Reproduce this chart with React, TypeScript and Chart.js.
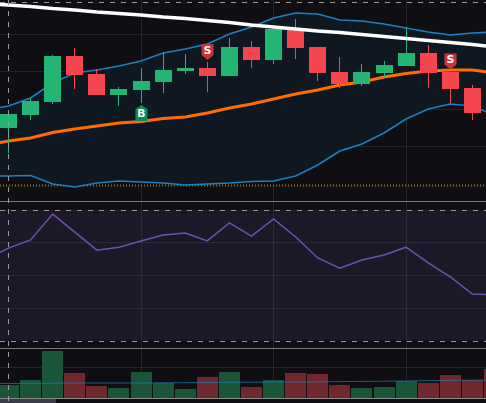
import React, { useEffect, useRef } from "react";
import { Chart, registerables } from "chart.js";

Chart.register(...registerables);

const candleIndex = [0, 1, 2, 3, 4, 5, 6, 7, 8, 9, 10, 11, 12, 13, 14, 15, 16, 17, 18, 19, 20, 21, 22];
const openValues = [72, 85, 98, 144, 126, 105, 110, 118, 129, 132, 124, 153, 140, 170, 153, 128, 116, 127, 134, 147, 128, 112, 87];
const closeValues = [86, 99, 144, 125, 105, 111, 119, 130, 132, 124, 153, 140, 171, 152, 127, 116, 128, 135, 147, 127, 111, 87, 70];
const highValues = [86, 102, 145, 152, 131, 113, 132, 148, 146, 138, 162, 159, 172, 181, 153, 143, 136, 139, 172, 155, 128, 115, 90];
const lowValues = [47, 80, 96, 111, 105, 94, 97, 107, 126, 108, 124, 132, 136, 141, 119, 112, 114, 122, 134, 112, 97, 80, 65];

// The overlay lines start one bar left of the window.
const upperBand = [90, 94, 102, 117, 127, 130, 134, 139, 147, 151, 156, 166, 173, 182, 187, 186, 180, 179, 176, 172, 168, 165, 167, 168];
const lowerBand = [24, 24, 24.5, 16, 13, 17, 19, 18, 17, 15, 16, 17, 18.5, 19, 24, 35, 49, 56, 67, 81, 91, 96, 94, 85];
const orangeAverage = [55, 59, 62, 67.5, 71, 74, 77, 78.5, 81.5, 83, 87, 92, 96, 101, 106, 110, 115, 118, 123, 126.5, 129, 130, 130, 127];
const whiteAverage = [196.5, 195, 193.5, 191.5, 190, 188, 186.5, 185, 183, 181.5, 179.5, 177.5, 175, 173, 171, 169, 167.5, 165.5, 163.5, 161.5, 159.5, 157.5, 155.5, 153];
const rsiValues = [54.9, 58.2, 60.7, 68.6, 63.1, 57.6, 58.5, 60.4, 62.2, 62.8, 60.4, 65.9, 61.9, 67.1, 61.6, 55.2, 52.1, 54.6, 56.1, 58.5, 53.7, 49.4, 44.2, 43.9];
const volumeValues = [13, 18, 47, 25, 12, 10, 26, 15, 9, 21, 26, 11, 18, 25, 24, 13, 10, 11, 17, 15, 23, 18, 29];
const volumeAverage = [14.5, 14.6, 14.7, 14.8, 15, 15, 15, 15, 15.2, 15.3, 15.5, 15.7, 15.8, 15.9, 16, 16.2, 16.4, 16.6, 16.8, 17, 17.3, 17.6, 17.8, 18];

const priceGrid = [166, 129, 91, 54];
const priceTopLine = 198;
const priceDotted = 15.5;
const rsiGrid = [40, 50, 60];
const rsiBounds = [70, 30];
const volumeGrid = [31];
const timeGrid = [6, 12, 18];
const crosshairIndex = 0;
const buyMarks = [{ index: 6, price: 87, label: "B" }];
const sellMarks = [
  { index: 9, price: 148, label: "S" },
  { index: 20, price: 138.5, label: "S" },
];

const GREEN = "#22b573";
const RED = "#f5454f";
const GREEN_VOL = "#1a5539";
const RED_VOL = "#70282f";

const overlay = (values: number[]) => values.map((y, i) => ({ x: i - 1, y }));

const drawRule = (chart: any, y: number, color: string, dash: number[] = [], lineWidth = 1) => {
  const { ctx, width } = chart;
  const py = Math.round(y) + 0.5;
  ctx.save();
  ctx.strokeStyle = color;
  ctx.lineWidth = lineWidth;
  ctx.setLineDash(dash);
  ctx.beginPath();
  ctx.moveTo(0, py);
  ctx.lineTo(width, py);
  ctx.stroke();
  ctx.restore();
};

const panesPlugin = {
  id: "panes",
  beforeDatasetsDraw(chart: any) {
    const { ctx, scales, width } = chart;
    ctx.fillStyle = "#1b1828";
    const top = scales.rsi.getPixelForValue(rsiBounds[0]);
    const bottom = scales.rsi.getPixelForValue(rsiBounds[1]);
    ctx.fillRect(0, top, width, bottom - top);
    priceGrid.forEach((v) => drawRule(chart, scales.price.getPixelForValue(v), "#22232a"));
    rsiGrid.forEach((v) => drawRule(chart, scales.rsi.getPixelForValue(v), "#2b2936"));
    volumeGrid.forEach((v) => drawRule(chart, scales.vol.getPixelForValue(v), "#24252b"));
    timeGrid.forEach((i) => {
      const px = Math.round(scales.x.getPixelForValue(i) - 0.5) + 0.5;
      ctx.save();
      ctx.strokeStyle = "rgba(70,72,82,0.4)";
      ctx.beginPath();
      ctx.moveTo(px, 0);
      ctx.lineTo(px, scales.vol.getPixelForValue(0));
      ctx.stroke();
      ctx.restore();
    });
    drawRule(chart, scales.price.getPixelForValue(priceDotted), "#a06c10", [1, 2], 2);
  },
  afterDatasetsDraw(chart: any) {
    const { ctx, scales, height } = chart;
    drawRule(chart, scales.price.getPixelForValue(priceTopLine), "#9a9a9a", [5, 6]);
    rsiBounds.forEach((v) => drawRule(chart, scales.rsi.getPixelForValue(v), "#9a9a9a", [5, 6]));
    drawRule(chart, 201, "#7a7a7a");
    drawRule(chart, 348, "#7a7a7a");
    drawRule(chart, scales.vol.getPixelForValue(0), "#8a8a8a");
    ctx.fillStyle = "#3a3d48";
    ctx.fillRect(0, 399, 56, 4);

    const cx = Math.round(scales.x.getPixelForValue(crosshairIndex) - 0.5) + 0.5;
    ctx.save();
    ctx.strokeStyle = "#9a9a9a";
    ctx.setLineDash([5, 6]);
    ctx.beginPath();
    ctx.moveTo(cx, 0);
    ctx.lineTo(cx, height);
    ctx.stroke();
    ctx.restore();

    const mark = (m: { index: number; price: number; label: string }, up: boolean) => {
      const x = Math.round(scales.x.getPixelForValue(m.index) - 0.5) + 0.5;
      const y = scales.price.getPixelForValue(m.price);
      const h = 8;
      const w = 6;
      ctx.save();
      ctx.fillStyle = up ? "#0a8f58" : "#c9343a";
      ctx.beginPath();
      if (up) {
        ctx.moveTo(x, y - h);
        ctx.lineTo(x + w, y - h + 4);
        ctx.lineTo(x + w, y + h);
        ctx.lineTo(x - w, y + h);
        ctx.lineTo(x - w, y - h + 4);
      } else {
        ctx.moveTo(x - w, y - h);
        ctx.lineTo(x + w, y - h);
        ctx.lineTo(x + w, y + h - 5);
        ctx.lineTo(x, y + h);
        ctx.lineTo(x - w, y + h - 5);
      }
      ctx.closePath();
      ctx.fill();
      ctx.fillStyle = "#ffffff";
      ctx.font = "bold 11px 'DejaVu Sans'";
      ctx.textAlign = "center";
      ctx.textBaseline = "middle";
      ctx.fillText(m.label, x, up ? y + 1 : y - 1);
      ctx.restore();
    };
    buyMarks.forEach((m) => mark(m, true));
    sellMarks.forEach((m) => mark(m, false));
  },
  afterDatasetsUpdate(chart: any) {
    chart.data.datasets.forEach((ds: any, i: number) => {
      if (ds.type !== "bar") return;
      chart.getDatasetMeta(i).data.forEach((el: any) => {
        el.x = Math.round(el.x - 0.5) + 0.5;
      });
    });
  },
};

export default function App() {
  const ref = useRef<HTMLCanvasElement | null>(null);
  useEffect(() => {
    document.body.style.margin = "0";
    document.body.style.background = "#0f0f13";
    const up = candleIndex.map((i) => closeValues[i] >= openValues[i]);
    const candleColors = up.map((u) => (u ? GREEN : RED));
    const volumeColors = up.map((u) => (u ? GREEN_VOL : RED_VOL));
    const thin = { type: "line", pointRadius: 0, tension: 0, xAxisID: "x" };
    const chart = new Chart(ref.current as HTMLCanvasElement, {
      type: "bar",
      data: {
        datasets: [
          {
            ...thin,
            label: "Upper band",
            data: overlay(upperBand),
            yAxisID: "price",
            borderColor: "#1f7fc4",
            borderWidth: 1.6,
            backgroundColor: "#0f1820",
            fill: "+1",
            order: 12,
          },
          {
            ...thin,
            label: "Lower band",
            data: overlay(lowerBand),
            yAxisID: "price",
            borderColor: "#1f7fc4",
            borderWidth: 1.6,
            fill: false,
            order: 11,
          },
          {
            ...thin,
            label: "Average",
            data: overlay(orangeAverage),
            yAxisID: "price",
            borderColor: "#ff6d00",
            borderWidth: 3,
            fill: false,
            order: 10,
          },
          {
            type: "bar",
            label: "Wick",
            data: candleIndex.map((i) => ({ x: i, y: [lowValues[i], highValues[i]] })),
            xAxisID: "x",
            yAxisID: "price",
            backgroundColor: candleColors,
            barThickness: 1,
            grouped: false,
            inflateAmount: 0,
            order: 9,
          },
          {
            type: "bar",
            label: "Candle",
            data: candleIndex.map((i) => ({ x: i, y: [openValues[i], closeValues[i]] })),
            xAxisID: "x",
            yAxisID: "price",
            backgroundColor: candleColors,
            barThickness: 17,
            grouped: false,
            inflateAmount: 0,
            order: 8,
          },
          {
            ...thin,
            label: "Long average",
            data: overlay(whiteAverage),
            yAxisID: "price",
            borderColor: "#ffffff",
            borderWidth: 3.4,
            fill: false,
            order: 7,
          },
          {
            ...thin,
            label: "RSI",
            data: overlay(rsiValues),
            yAxisID: "rsi",
            borderColor: "#7050b0",
            borderWidth: 1.5,
            fill: false,
            order: 6,
          },
          {
            type: "bar",
            label: "Volume",
            data: volumeValues.map((y, i) => ({ x: i, y })),
            xAxisID: "x",
            yAxisID: "vol",
            backgroundColor: volumeColors,
            barThickness: 21,
            grouped: false,
            inflateAmount: 0,
            order: 5,
          },
          {
            ...thin,
            label: "Volume average",
            data: overlay(volumeAverage),
            yAxisID: "vol",
            borderColor: "rgba(35,125,180,0.7)",
            borderWidth: 1,
            fill: false,
            order: 4,
          },
        ] as any,
      },
      options: {
        responsive: false,
        animation: false,
        events: [],
        layout: { padding: 0 },
        plugins: { legend: { display: false }, tooltip: { enabled: false } },
        scales: {
          x: { type: "linear", axis: "x", offset: false, display: false, min: -0.385, max: 21.616 },
          price: { type: "linear", axis: "y", display: false, min: -203, max: 200 },
          rsi: { type: "linear", axis: "y", display: false, min: 10.92, max: 133.97 },
          vol: { type: "linear", axis: "y", display: false, min: -5, max: 398 },
        },
      } as any,
      plugins: [panesPlugin as any],
    });
    return () => chart.destroy();
  }, []);
  return <canvas ref={ref} width={486} height={403} style={{ display: "block" }} />;
}
